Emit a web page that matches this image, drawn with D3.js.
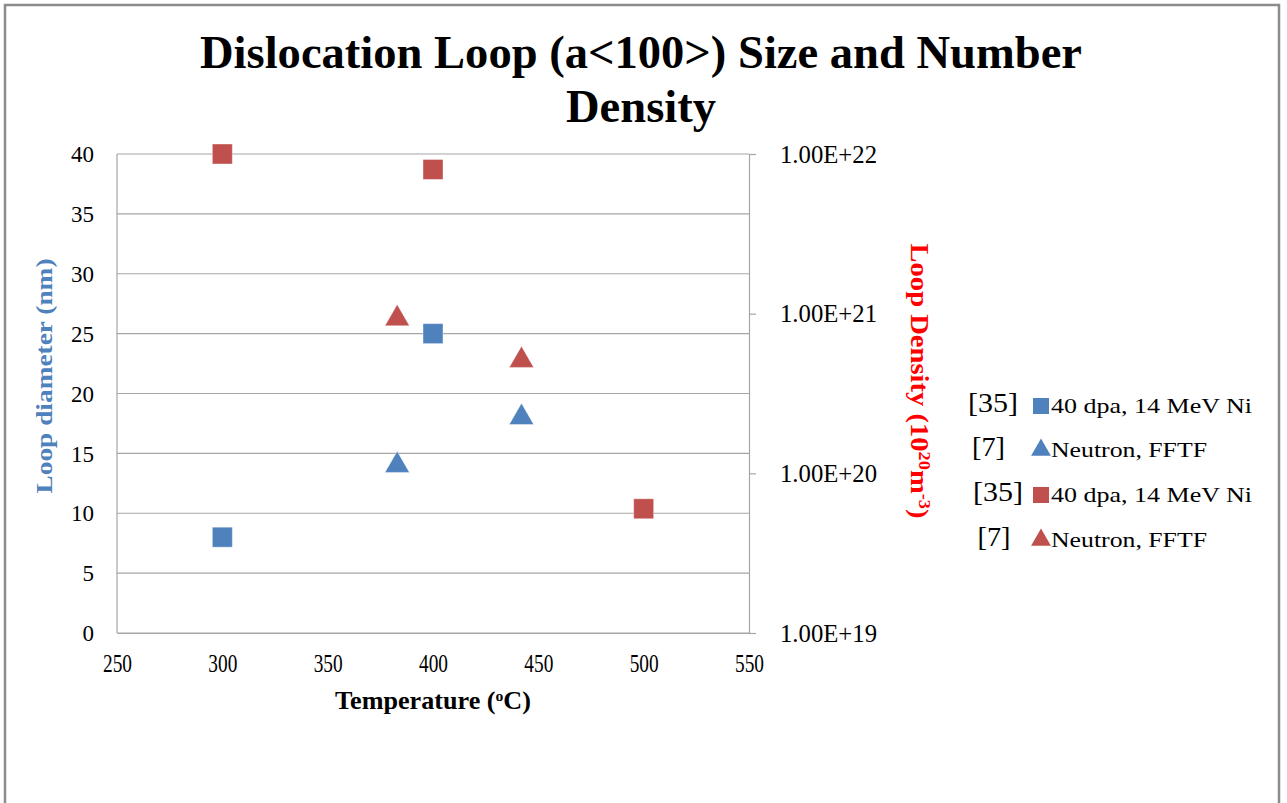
<!DOCTYPE html>
<html><head><meta charset="utf-8">
<script src="https://cdn.jsdelivr.net/npm/d3@7"></script>
<style>body{margin:0;background:#fff}svg{display:block}text{font-family:"Liberation Serif","Times New Roman",serif}</style>
</head><body><svg id="c" width="1287" height="803"></svg>
<script>
const titleLines = ["Dislocation Loop (a<100>) Size and Number", "Density"];
const xTicks = [250, 300, 350, 400, 450, 500, 550];
const yLeftTicks = [0, 5, 10, 15, 20, 25, 30, 35, 40];
const yRightTicks = [1e19, 1e20, 1e21, 1e22];
const yRightTickLabels = ["1.00E+19", "1.00E+20", "1.00E+21", "1.00E+22"];
// left axis: loop diameter (nm)
const blueSquareX = [300, 400];
const blueSquareY = [8, 25];
const blueTriX = [383, 442];
const blueTriY = [14, 18];
// right axis: loop density (m^-3)
const redSquareX = [300, 400, 500];
const redSquareY = [1e22, 8e21, 6e19];
const redTriX = [383, 442];
const redTriY = [9.3e20, 5.1e20];
const legendRefs = ["[35]", "[7]", "[35]", "[7]"];
const legendLabels = ["40 dpa, 14 MeV Ni", "Neutron, FFTF", "40 dpa, 14 MeV Ni", "Neutron, FFTF"];

const BLUE = "#4F81BD", RED = "#C0504D";
const svg = d3.select("#c");
const L = 117, R = 749, T = 154, B = 633;

// outer border
svg.append("path").attr("d", "M5,810 V5 H1279 V810").attr("fill", "none").attr("stroke", "#8c8c8c").attr("stroke-width", 2.5);

const x = d3.scaleLinear().domain([250, 550]).range([L, R]);
const yL = d3.scaleLinear().domain([0, 40]).range([B, T]);
const yR = d3.scaleLog().domain([1e19, 1e22]).range([B, T]);

// gridlines
svg.append("g").selectAll("line").data(yLeftTicks).join("line")
  .attr("x1", L).attr("x2", R).attr("y1", d => yL(d)).attr("y2", d => yL(d))
  .attr("stroke", "#a6a6a6").attr("stroke-width", 1.2);
svg.append("line").attr("x1", L).attr("x2", L).attr("y1", T).attr("y2", B).attr("stroke", "#a6a6a6").attr("stroke-width", 1.2);

// left axis labels
const gL = svg.append("g").attr("transform", `translate(${L},0)`)
  .call(d3.axisLeft(yL).tickValues(yLeftTicks).tickSize(0).tickPadding(23));
gL.select(".domain").remove();
gL.selectAll("text").attr("font-size", 24).attr("font-family", "Liberation Serif").attr("fill", "#000")
  .attr("textLength", d => String(d).length * 11.5).attr("lengthAdjust", "spacingAndGlyphs");

// right axis
const gR = svg.append("g").attr("transform", `translate(${R},0)`)
  .call(d3.axisRight(yR).tickValues(yRightTicks).tickFormat((d, i) => yRightTickLabels[i]).tickSize(7).tickPadding(24));
gR.select(".domain").attr("stroke", "#a6a6a6").attr("stroke-width", 1.2);
gR.selectAll(".tick line").attr("stroke", "#a6a6a6").attr("stroke-width", 1.2);
gR.selectAll("text").attr("font-size", 25).attr("font-family", "Liberation Serif").attr("fill", "#000")
  .attr("textLength", 97).attr("lengthAdjust", "spacingAndGlyphs");

// x axis
const gX = svg.append("g").attr("transform", `translate(0,${B})`)
  .call(d3.axisBottom(x).tickValues(xTicks).tickSize(0).tickPadding(21));
gX.select(".domain").attr("stroke", "#a6a6a6").attr("stroke-width", 1.2);
gX.selectAll("text").attr("font-size", 25).attr("font-family", "Liberation Serif").attr("fill", "#000")
  .attr("textLength", 29).attr("lengthAdjust", "spacingAndGlyphs");

// title
svg.append("text").attr("x", 641).attr("y", 68).attr("text-anchor", "middle")
  .attr("font-size", 46).attr("font-weight", "bold").attr("textLength", 882).attr("lengthAdjust", "spacingAndGlyphs")
  .text(titleLines[0]);
svg.append("text").attr("x", 641).attr("y", 122).attr("text-anchor", "middle")
  .attr("font-size", 46).attr("font-weight", "bold").attr("textLength", 150).attr("lengthAdjust", "spacingAndGlyphs")
  .text(titleLines[1]);

// axis titles
svg.append("text").attr("x", 433).attr("y", 709).attr("text-anchor", "middle")
  .attr("font-size", 25).attr("font-weight", "bold").attr("textLength", 196).attr("lengthAdjust", "spacingAndGlyphs")
  .html('Temperature (<tspan baseline-shift="super" font-size="15">o</tspan>C)');
svg.append("text").attr("transform", "translate(52,376) rotate(-90)").attr("text-anchor", "middle")
  .attr("font-size", 24).attr("font-weight", "bold").attr("fill", BLUE).attr("textLength", 235).attr("lengthAdjust", "spacingAndGlyphs")
  .text("Loop diameter (nm)");
svg.append("text").attr("transform", "translate(911,381) rotate(90)").attr("text-anchor", "middle")
  .attr("font-size", 25).attr("font-weight", "bold").attr("fill", "#FF0000").attr("textLength", 275).attr("lengthAdjust", "spacingAndGlyphs")
  .html('Loop Density (10<tspan baseline-shift="super" font-size="16">20</tspan>m<tspan baseline-shift="super" font-size="16">-3</tspan>)');

// markers
const sq = d3.symbol().type(d3.symbolSquare).size(400);
const tri = d3.symbol().type(d3.symbolTriangle).size(260);
function draw(xs, ys, scale, sym, color) {
  svg.append("g").selectAll("path").data(xs).join("path")
    .attr("d", sym)
    .attr("transform", (d, i) => `translate(${x(d)},${scale(ys[i])})`)
    .attr("fill", color).attr("stroke", "#fff").attr("stroke-opacity", 0.5).attr("stroke-width", 0.8);
}
draw(blueSquareX, blueSquareY, yL, sq, BLUE);
draw(blueTriX, blueTriY, yL, tri, BLUE);
draw(redSquareX, redSquareY, yR, sq, RED);
draw(redTriX, redTriY, yR, tri, RED);

// legend
const legY = [405, 449, 494, 539];
const refX = [993, 988.5, 998, 994];
const refW = [50, 33, 50, 33];
const legW = [201, 156, 201, 156];
const legCols = [BLUE, BLUE, RED, RED];
const lg = svg.append("g");
legendRefs.forEach((r, i) => {
  lg.append("text").attr("x", refX[i]).attr("y", legY[i] + 7).attr("text-anchor", "middle").attr("font-size", 28)
    .attr("textLength", refW[i]).attr("lengthAdjust", "spacingAndGlyphs").text(r);
  lg.append("path").attr("d", i % 2 === 0 ? d3.symbol().type(d3.symbolSquare).size(256)() : d3.symbol().type(d3.symbolTriangle).size(170)())
    .attr("transform", `translate(1041,${legY[i] + 1})`).attr("fill", legCols[i]);
  lg.append("text").attr("x", 1051).attr("y", legY[i] + 8).attr("font-size", 22)
    .attr("textLength", legW[i]).attr("lengthAdjust", "spacingAndGlyphs").text(legendLabels[i]);
});
</script></body></html>
